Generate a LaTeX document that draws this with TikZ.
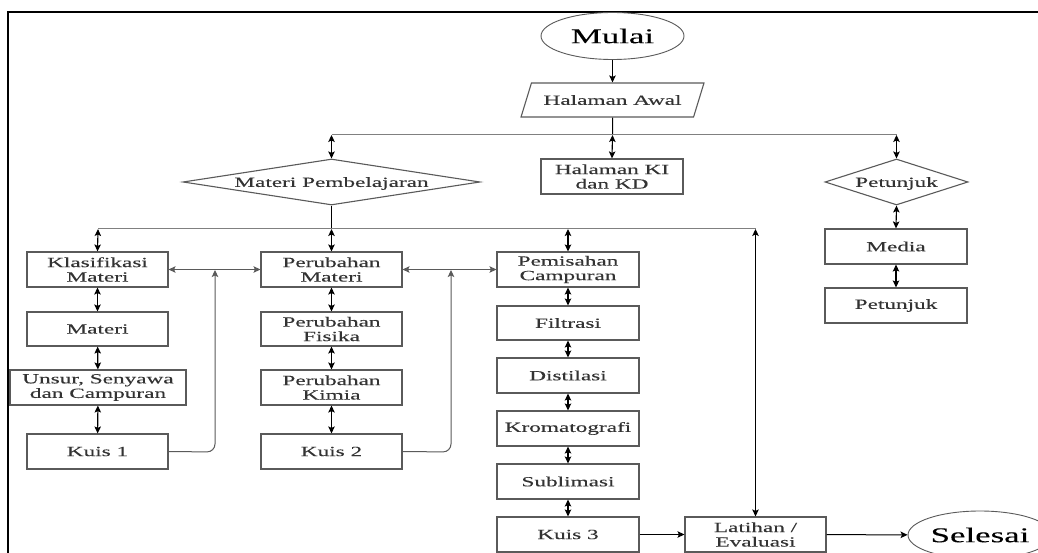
\documentclass[tikz,border=0pt]{standalone}
\usepackage{fontspec}
\setmainfont{Liberation Serif}[FakeStretch=1.66,FakeBold=0.15]
\usetikzlibrary{shapes.geometric,arrows.meta}
\definecolor{boxc}{HTML}{5A5A5A}
\definecolor{txtc}{HTML}{333333}
\definecolor{busc}{HTML}{808080}
\newcommand{\zbox}[1]{\smash{\makebox[0pt]{#1}}}
\begin{document}
\begin{tikzpicture}[x=1pt,y=-1pt,
  every node/.style={text=txtc,font=\fontsize{14}{14.5}\selectfont,align=center,inner sep=0pt},
  box/.style={draw=boxc,line width=1.1pt,rectangle,minimum width=141pt,minimum height=35pt},
  dia/.style={draw=boxc,line width=1.1pt,diamond},
  term/.style={draw=boxc,line width=0.9pt,ellipse,font=\fontsize{21}{22}\selectfont,text=black},
  bus/.style={draw=busc,line width=1pt},
  dbl/.style={draw=black,line width=1.1pt,{Stealth[length=7pt,width=6.5pt,inset=1.5pt]}-{Stealth[length=7pt,width=6.5pt,inset=1.5pt]}},
  one/.style={draw=black,line width=1pt,-{Stealth[length=7pt,width=6.5pt,inset=1.5pt]}},
  oneg/.style={draw=boxc,line width=1pt,-{Stealth[length=7pt,width=6.5pt,inset=1.5pt]}}
]
\useasboundingbox (0,0) rectangle (1038,553);
\fill[white] (0,0) rectangle (1038,553);
% frame
\draw[black,line width=2pt] (1038,12) -- (8,12) -- (8,553);

% top
\node[term,minimum width=143pt,minimum height=47pt] (mulai) at (612.5,36) {Mulai};
\node[draw=boxc,line width=1.1pt,trapezium,trapezium left angle=48,trapezium right angle=132,trapezium stretches=true,minimum width=183pt,minimum height=34pt] (awal) at (612.5,100) {Halaman Awal};
\node[dia,minimum width=297pt,minimum height=46pt] (mp) at (331.5,182) {\zbox{\raisebox{-0.35em}{Materi Pembelajaran}}};
\node[box,minimum width=142pt] (ki) at (612,176.5) {Halaman KI\\dan KD};
\node[dia,minimum width=143pt,minimum height=46pt] (petd) at (896.5,182) {\zbox{\raisebox{-0.35em}{Petunjuk}}};

% column 1
\node[box] (klas) at (97.5,269.5) {Klasifikasi\\Materi};
\node[box,minimum height=34pt] (mat) at (97.5,329) {Materi};
\node[box,minimum width=176pt] (uns) at (98,387.5) {Unsur, Senyawa\\dan Campuran};
\node[box] (k1) at (97.5,451.5) {Kuis 1};
% column 2
\node[box] (pmat) at (331.5,269.5) {Perubahan\\Materi};
\node[box,minimum height=34pt] (pfis) at (331.5,329) {Perubahan\\Fisika};
\node[box] (pkim) at (331.5,387.5) {Perubahan\\Kimia};
\node[box] (k2) at (331.5,451.5) {Kuis 2};
% column 3
\node[box,minimum width=142pt] (pcam) at (568,269.5) {Pemisahan\\Campuran};
\node[box,minimum width=142pt,minimum height=34pt] (fil) at (568,323) {Filtrasi};
\node[box,minimum width=142pt] (dis) at (568,375.5) {Distilasi};
\node[box,minimum width=142pt] (krom) at (568,428.5) {Kromatografi};
\node[box,minimum width=142pt] (sub) at (568,481.5) {Sublimasi};
\node[box,minimum width=142pt] (k3) at (568,534.5) {Kuis 3};
% right
\node[box] (lat) at (755.5,534.5) {Latihan /\\Evaluasi};
\node[term,minimum width=144pt,minimum height=48pt] (sel) at (980,535) {Selesai};
\node[box,minimum width=142pt] (media) at (896,246.5) {Media};
\node[box,minimum width=142pt] (pet) at (896,305.5) {Petunjuk};

% bus coordinates
\coordinate (b1l) at (331.5,135);
\coordinate (b1m) at (612.5,135);
\coordinate (b1r) at (896.5,135);
\coordinate (b2l) at (98,229);
\coordinate (b2a) at (331.5,229);
\coordinate (b2b) at (568,229);
\coordinate (b2r) at (755.5,229);
\coordinate (q1) at (215,452);
\coordinate (q1t) at (215,270);
\coordinate (q2) at (451,452);
\coordinate (q2t) at (451,270);

% connectors
\draw[one] (mulai) -- (awal);
\draw[line width=1pt] (awal.south) -- (b1m);
\draw[bus] (b1l) -- (b1r);
\draw[dbl] (b1l) -- (mp.north);
\draw[dbl] (b1m) -- (ki.north);
\draw[dbl] (b1r) -- (petd.north);

\draw[line width=1pt] (mp.south) -- (b2a);
\draw[bus] (b2l) -- (b2r);
\draw[dbl] (b2l) -- (klas.north);
\draw[dbl] (b2a) -- (pmat.north);
\draw[dbl] (b2b) -- (pcam.north);
\draw[dbl] (b2r) -- (lat.north);

\draw[dbl,line width=0.9pt,draw=boxc] (klas.east) -- (pmat.west);
\draw[dbl,line width=0.9pt,draw=boxc] (pmat.east) -- (pcam.west);
\draw[oneg,rounded corners=8pt] (k1.east) -- (q1) -- (q1t);
\draw[oneg,rounded corners=8pt] (k2.east) -- (q2) -- (q2t);

\draw[dbl] (klas) -- (mat);
\draw[dbl] (mat) -- (uns);
\draw[dbl] (uns) -- (k1);
\draw[dbl] (pmat) -- (pfis);
\draw[dbl] (pfis) -- (pkim);
\draw[dbl] (pkim) -- (k2);
\draw[dbl] (pcam) -- (fil);
\draw[dbl] (fil) -- (dis);
\draw[dbl] (dis) -- (krom);
\draw[dbl] (krom) -- (sub);
\draw[dbl] (sub) -- (k3);
\draw[dbl] (petd.south) -- (media.north);
\draw[dbl] (media) -- (pet);

\draw[one] (k3) -- (lat);
\draw[one] (lat) -- (sel);
\end{tikzpicture}
\end{document}
